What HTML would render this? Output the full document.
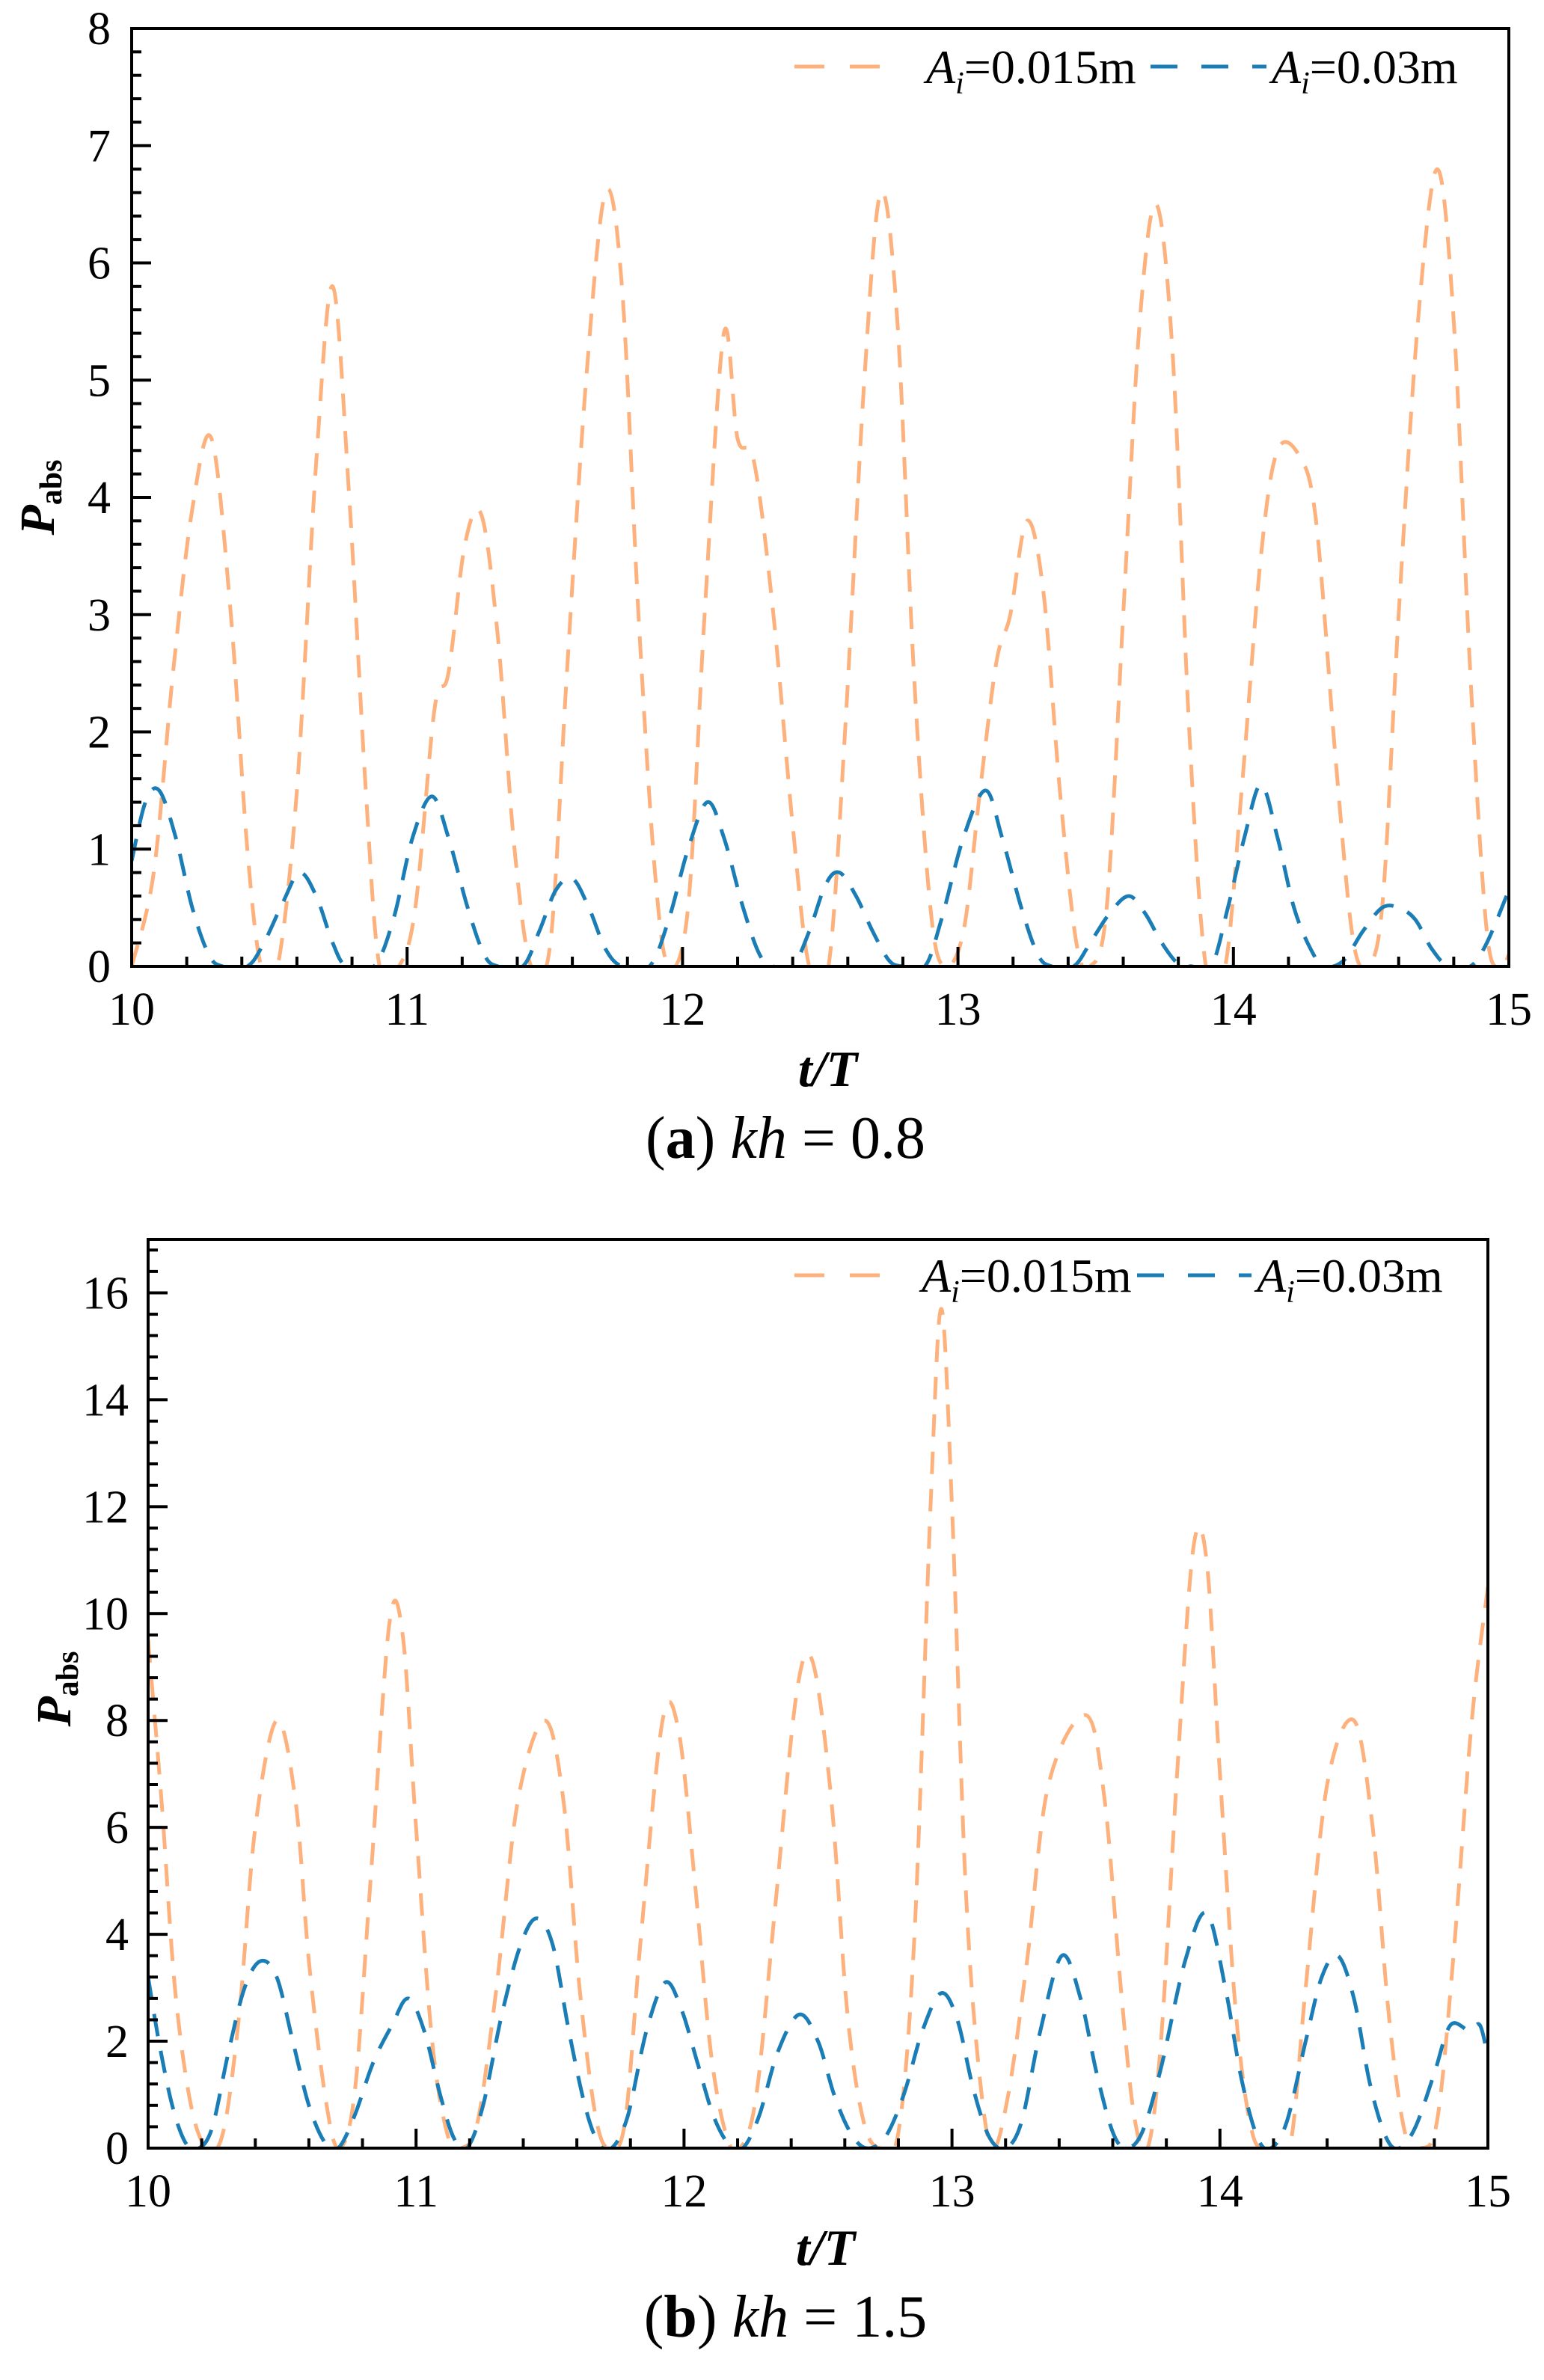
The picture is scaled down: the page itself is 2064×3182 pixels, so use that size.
<!DOCTYPE html>
<html><head><meta charset="utf-8">
<style>
html,body{margin:0;padding:0;background:#fff;}
svg{display:block;font-family:"Liberation Serif",serif;}
</style></head>
<body>
<svg id="fig" width="2064" height="3182" viewBox="0 0 2064 3182" xmlns="http://www.w3.org/2000/svg">
<g id="chartA"></g>
<g id="chartB"></g>
</svg>
<script>
// ---- Chart (a) kh = 0.8 ----
const aXTicks = [10, 11, 12, 13, 14, 15];
const aYTicks = [0, 1, 2, 3, 4, 5, 6, 7, 8];
const aOrangeT = [10.00,10.08,10.15,10.22,10.29,10.36,10.42,10.47,10.53,10.60,10.67,10.73,10.79,10.85,10.90,10.97,11.03,11.10,11.15,11.21,11.27,11.33,11.39,11.45,11.52,11.58,11.65,11.72,11.78,11.84,11.90,11.95,12.02,12.08,12.15,12.20,12.26,12.33,12.40,12.46,12.53,12.59,12.66,12.72,12.78,12.84,12.90,12.95,13.02,13.08,13.14,13.19,13.25,13.31,13.37,13.43,13.48,13.54,13.60,13.66,13.72,13.78,13.84,13.90,13.97,14.03,14.10,14.16,14.24,14.30,14.37,14.43,14.48,14.54,14.60,14.67,14.74,14.80,14.86,14.92,14.97,15.00];
const aOrangeP = [0,0.8,2.5,3.9,4.5,3.0,1.0,0,0,1.5,4.3,5.8,4.0,1.5,0,0,0.5,2.2,2.5,3.6,3.85,2.8,1.0,0,0.2,2.5,5.0,6.6,5.8,3.0,0.8,0,0.5,3.0,5.4,4.5,4.3,3.0,1.2,0,0,2.0,5.0,6.6,5.5,2.5,0.5,0,0.3,1.5,2.6,3.0,3.8,3.2,1.5,0.2,0,0.5,3.0,5.5,6.5,5.2,2.0,0,0,1.5,3.5,4.4,4.35,3.8,1.8,0.3,0,0.5,3.0,5.5,6.8,5.5,2.5,0.3,0,0.1];
const aBlueT = [10.00,10.05,10.10,10.16,10.22,10.28,10.33,10.42,10.48,10.55,10.61,10.67,10.73,10.78,10.88,10.95,11.02,11.09,11.15,11.22,11.28,11.33,11.42,11.48,11.54,11.60,11.66,11.72,11.78,11.88,11.95,12.02,12.09,12.15,12.22,12.28,12.33,12.40,12.46,12.52,12.57,12.63,12.69,12.75,12.80,12.88,12.94,13.02,13.10,13.16,13.23,13.29,13.34,13.42,13.48,13.55,13.62,13.68,13.74,13.80,13.85,13.92,13.98,14.04,14.10,14.16,14.22,14.28,14.33,14.40,14.47,14.54,14.60,14.66,14.72,14.78,14.86,14.92,15.00];
const aBlueP = [0.9,1.4,1.5,1.1,0.5,0.1,0,0,0.2,0.55,0.8,0.6,0.2,0,0,0.4,1.1,1.45,1.1,0.5,0.1,0,0,0.3,0.65,0.75,0.5,0.15,0,0,0.4,1.0,1.4,1.1,0.5,0.1,0,0,0.3,0.7,0.8,0.6,0.3,0.05,0,0,0.4,1.1,1.5,1.1,0.5,0.1,0,0,0.2,0.45,0.6,0.45,0.2,0.02,0,0,0.5,1.1,1.55,1.1,0.5,0.15,0,0.05,0.3,0.5,0.5,0.4,0.15,0,0,0.2,0.65];

// ---- Chart (b) kh = 1.5 ----
const bXTicks = [10, 11, 12, 13, 14, 15];
const bYTicks = [0, 2, 4, 6, 8, 10, 12, 14, 16];
const bOrangeT = [10.00,10.05,10.10,10.16,10.22,10.28,10.34,10.40,10.48,10.55,10.60,10.66,10.71,10.77,10.83,10.90,10.95,11.00,11.06,11.12,11.17,11.23,11.30,11.38,11.48,11.55,11.61,11.67,11.72,11.78,11.84,11.92,11.98,12.04,12.10,12.16,12.21,12.27,12.34,12.42,12.48,12.55,12.61,12.67,12.73,12.80,12.86,12.92,12.96,13.00,13.05,13.10,13.15,13.21,13.28,13.36,13.50,13.57,13.63,13.68,13.73,13.78,13.84,13.90,13.95,14.00,14.06,14.12,14.18,14.26,14.32,14.40,14.50,14.57,14.63,14.69,14.75,14.81,14.87,14.94,15.00];
const bOrangeP = [9.5,6.5,3.0,0.8,0,0.3,2.5,6.0,8.0,6.5,3.5,1.0,0,1.0,5.0,9.8,9.6,6.0,2.0,0.2,0,0.5,3.0,6.5,8.0,6.5,3.0,0.6,0,0.5,4.0,8.0,7.8,5.0,1.8,0.2,0,1.0,4.5,8.5,9.1,6.5,2.5,0.5,0,0.3,4.0,12.0,15.7,12.0,5.0,1.5,0,1.0,3.5,6.8,8.1,6.5,3.0,0.6,0,2.0,7.0,11.2,11.0,7.0,2.5,0.3,0,0,3.0,6.8,8.0,6.0,2.5,0.3,0,0.5,3.5,8.0,10.5];
const bBlueT = [10.00,10.04,10.09,10.14,10.19,10.24,10.30,10.36,10.42,10.48,10.54,10.60,10.66,10.71,10.77,10.84,10.91,10.97,11.03,11.09,11.14,11.19,11.25,11.32,11.39,11.45,11.51,11.57,11.63,11.68,11.73,11.79,11.86,11.93,11.99,12.05,12.11,12.17,12.22,12.28,12.35,12.43,12.50,12.56,12.62,12.68,12.75,12.82,12.89,12.96,13.02,13.08,13.14,13.20,13.26,13.33,13.41,13.48,13.54,13.60,13.65,13.71,13.78,13.87,13.95,14.02,14.08,14.14,14.19,14.25,14.32,14.38,14.44,14.50,14.56,14.62,14.67,14.73,14.80,14.86,14.93,14.97,15.00];
const bBlueP = [3.2,2.0,0.8,0.1,0,0.4,1.8,3.0,3.5,3.2,2.0,0.8,0.1,0,0.6,1.6,2.3,2.8,2.2,1.0,0.2,0,0.8,2.5,3.8,4.3,3.8,2.2,0.8,0.1,0,0.6,2.2,3.1,2.6,1.6,0.6,0.05,0,0.6,1.8,2.5,2.0,1.0,0.3,0,0.2,1.0,2.2,2.9,2.4,1.1,0.2,0,0.5,2.2,3.6,2.8,1.4,0.3,0,0.3,1.5,3.5,4.4,3.0,1.3,0.2,0,0.5,2.0,3.2,3.6,2.8,1.2,0.2,0,0.4,1.4,2.3,2.2,2.3,1.7];

const NS = 'http://www.w3.org/2000/svg';
const ORANGE = '#FDB27E', BLUE = '#1A7DB6';

function mk(parent, tag, attrs, text) {
  const el = document.createElementNS(NS, tag);
  for (const k in attrs) el.setAttribute(k, attrs[k]);
  if (text !== undefined) el.textContent = text;
  parent.appendChild(el);
  return el;
}

function smoothPath(pts) {
  let d = 'M' + pts[0][0].toFixed(1) + ',' + pts[0][1].toFixed(1);
  for (let i = 0; i < pts.length - 1; i++) {
    const p0 = pts[Math.max(0, i - 1)], p1 = pts[i], p2 = pts[i + 1], p3 = pts[Math.min(pts.length - 1, i + 2)];
    const c1x = p1[0] + (p2[0] - p0[0]) / 6, c1y = p1[1] + (p2[1] - p0[1]) / 6;
    const c2x = p2[0] - (p3[0] - p1[0]) / 6, c2y = p2[1] - (p3[1] - p1[1]) / 6;
    d += ' C' + c1x.toFixed(1) + ',' + c1y.toFixed(1) + ' ' + c2x.toFixed(1) + ',' + c2y.toFixed(1) + ' ' + p2[0].toFixed(1) + ',' + p2[1].toFixed(1);
  }
  return d;
}

function drawChart(g, cfg) {
  const {L, R, T, B, ymax, xTicks, yTicks, yMinorStep, id} = cfg;
  const xs = t => L + (t - 10) / 5 * (R - L);
  const ys = p => B - p / ymax * (B - T);

  const defs = mk(g, 'defs', {});
  const cp = mk(defs, 'clipPath', {id: 'clip' + id});
  mk(cp, 'rect', {x: L, y: T, width: R - L, height: B - T});

  const series = [
    {t: cfg.oT, p: cfg.oP, color: ORANGE, name: 'series-ai-0015'},
    {t: cfg.bT, p: cfg.bP, color: BLUE, name: 'series-ai-003'}
  ];
  series.forEach(s => {
    const pts = s.t.map((t, i) => [xs(t), ys(s.p[i])]);
    const path = mk(g, 'path', {d: smoothPath(pts), fill: 'none', stroke: s.color, 'stroke-width': 5,
      'stroke-dasharray': '30 20', 'clip-path': 'url(#clip' + id + ')'});
    
    
  });

  const frame = mk(g, 'rect', {x: L, y: T, width: R - L, height: B - T, fill: 'none', stroke: '#000', 'stroke-width': 4});
  
  

  for (let v = 10; v <= 15.001; v += 0.2) {
    const major = Math.abs(v - Math.round(v)) < 1e-6;
    const x = xs(v);
    mk(g, 'line', {x1: x, x2: x, y1: B, y2: B - (major ? 26 : 13), stroke: '#000', 'stroke-width': 4});
  }
  xTicks.forEach(v => {
    const t = mk(g, 'text', {x: xs(v), y: cfg.xLabelY, 'text-anchor': 'middle', 'font-size': 62}, String(v));
    
    
  });
  const majorStep = yTicks[1] - yTicks[0];
  for (let v = 0; v <= ymax + 1e-6; v += yMinorStep) {
    const major = Math.abs(v / majorStep - Math.round(v / majorStep)) < 1e-6;
    const y = ys(v);
    mk(g, 'line', {x1: L, x2: L + (major ? 26 : 13), y1: y, y2: y, stroke: '#000', 'stroke-width': 4});
  }
  yTicks.forEach(v => {
    const t = mk(g, 'text', {x: cfg.yLabelX, y: ys(v) + 21, 'text-anchor': 'end', 'font-size': 62}, String(v));
    
    
  });

  const xt = mk(g, 'text', {x: (L + R) / 2 + 10, y: cfg.xTitleY, 'text-anchor': 'middle', 'font-size': 68, 'font-weight': 'bold', 'font-style': 'italic'}, 't/T');
  
  
  const yt = mk(g, 'text', {transform: 'translate(' + cfg.yTitleX + ',' + cfg.yTitleY + ') rotate(-90)', 'text-anchor': 'middle', 'font-size': 66, 'font-weight': 'bold'});
  
  
  mk(yt, 'tspan', {'font-style': 'italic'}, 'P');
  mk(yt, 'tspan', {'font-size': 42, dy: 10}, 'abs');

  const cap = mk(g, 'text', {x: cfg.capX, y: cfg.capY, 'text-anchor': 'middle', 'font-size': 80});
  
  
  mk(cap, 'tspan', {}, '(');
  mk(cap, 'tspan', {'font-weight': 'bold'}, cfg.capLetter);
  mk(cap, 'tspan', {}, ') ');
  mk(cap, 'tspan', {'font-style': 'italic'}, 'kh');
  mk(cap, 'tspan', {}, ' = ' + cfg.capVal);

  const lg = mk(g, 'g', {});
  
  
  const ly = cfg.legY;
  const lo = mk(lg, 'line', {x1: cfg.legO[0], x2: cfg.legO[1], y1: ly, y2: ly, stroke: ORANGE, 'stroke-width': 5, 'stroke-dasharray': '40 34'});
  
  
  const lt1 = mk(lg, 'text', {x: cfg.legOText, y: ly + 22, 'font-size': 64});
  
  
  mk(lt1, 'tspan', {'font-style': 'italic'}, 'A');
  mk(lt1, 'tspan', {'font-style': 'italic', 'font-size': 42, dy: 14}, 'i');
  mk(lt1, 'tspan', {dy: -14}, '=0.015m');
  const lb = mk(lg, 'line', {x1: cfg.legB[0], x2: cfg.legB[1], y1: ly, y2: ly, stroke: BLUE, 'stroke-width': 5, 'stroke-dasharray': '36 32'});
  
  
  const lt2 = mk(lg, 'text', {x: cfg.legBText, y: ly + 22, 'font-size': 64});
  
  
  mk(lt2, 'tspan', {'font-style': 'italic'}, 'A');
  mk(lt2, 'tspan', {'font-style': 'italic', 'font-size': 42, dy: 14}, 'i');
  mk(lt2, 'tspan', {dy: -14}, '=0.03m');
}

drawChart(document.getElementById('chartA'), {
  id: 'A', L: 176, R: 2017, T: 38, B: 1292, ymax: 8, xTicks: aXTicks, yTicks: aYTicks, yMinorStep: 0.2,
  oT: aOrangeT, oP: aOrangeP, bT: aBlueT, bP: aBlueP,
  xLabelY: 1370, yLabelX: 148, xTitleY: 1452, yTitleX: 72, yTitleY: 665,
  capX: 1050, capY: 1548, capLetter: 'a', capVal: '0.8',
  legY: 89, legO: [1062, 1210], legOText: 1238, legB: [1538, 1693], legBText: 1700
});
drawChart(document.getElementById('chartB'), {
  id: 'B', L: 198, R: 1989, T: 1657, B: 2872, ymax: 17, xTicks: bXTicks, yTicks: bYTicks, yMinorStep: 0.4,
  oT: bOrangeT, oP: bOrangeP, bT: bBlueT, bP: bBlueP,
  xLabelY: 2950, yLabelX: 172, xTitleY: 3028, yTitleX: 94, yTitleY: 2258,
  capX: 1050, capY: 3124, capLetter: 'b', capVal: '1.5',
  legY: 1705, legO: [1062, 1210], legOText: 1232, legB: [1520, 1673], legBText: 1680
});
</script>
</body></html>
